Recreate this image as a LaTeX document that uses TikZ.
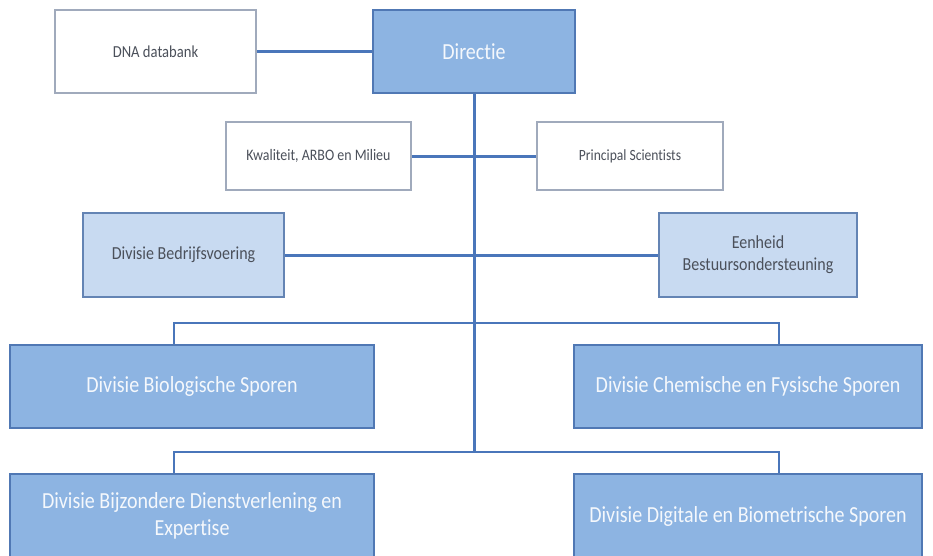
\documentclass[tikz,border=0pt]{standalone}
\usepackage{fontspec}
\setmainfont[FakeStretch=0.87,Ligatures=NoCommon]{Carlito}
\definecolor{darkfill}{RGB}{141,180,226}
\definecolor{darkedge}{RGB}{80,120,180}
\definecolor{lightfill}{RGB}{200,218,241}
\definecolor{lightedge}{RGB}{100,132,180}
\definecolor{whiteedge}{RGB}{160,170,188}
\definecolor{linecol}{RGB}{74,118,186}
\definecolor{darktext}{RGB}{245,248,252}
\definecolor{greytext}{RGB}{75,80,90}
\tikzset{
  box/.style={rectangle, inner sep=2pt, align=center},
  whitebox/.style={box, draw=whiteedge, line width=1.5pt, fill=white, text=greytext, font=\fontsize{16}{19}\selectfont},
  lightbox/.style={box, draw=lightedge, line width=2pt, fill=lightfill, text=greytext, font=\fontsize{18.4}{22}\selectfont},
  darkbox/.style={box, draw=darkedge, line width=2.5pt, fill=darkfill, text=darktext, font=\fontsize{23}{27}\selectfont},
  conn/.style={draw=linecol, line width=3pt},
  conn2/.style={draw=linecol, line width=2.5pt}
}
\begin{document}
\begin{tikzpicture}[x=1pt, y=-1pt]
\useasboundingbox (0,0) rectangle (933,555);
\fill[white] (0,0) rectangle (933,555);
% junction coordinates
\coordinate (t1) at (474,323);
\coordinate (t2) at (474,452);
\coordinate (b1) at (174,323);
\coordinate (c1) at (779,323);
\coordinate (b2) at (174,452);
\coordinate (c2) at (779,452);
% boxes
\node[whitebox, minimum width=201pt, minimum height=83pt, font=\fontsize{16.8}{20}\selectfont] (dna) at (155.5,51.5) {DNA databank};
\node[darkbox, minimum width=202pt, minimum height=83pt] (dir) at (474,51.5) {Directie};
\node[whitebox, minimum width=185pt, minimum height=68pt] (kwa) at (318.5,156) {Kwaliteit, ARBO en Milieu};
\node[whitebox, minimum width=186pt, minimum height=68pt, font=\fontsize{15.6}{19}\selectfont] (pri) at (630,156) {Principal Scientists};
\node[lightbox, minimum width=201pt, minimum height=84pt] (bed) at (183.5,255) {Divisie Bedrijfsvoering};
\node[lightbox, minimum width=198pt, minimum height=84pt] (een) at (758,255) {Eenheid\\Bestuursondersteuning};
\node[darkbox, minimum width=364pt, minimum height=83pt] (bio) at (192,386.5) {Divisie Biologische Sporen};
\node[darkbox, minimum width=348pt, minimum height=83pt] (che) at (748,386.5) {Divisie Chemische en Fysische Sporen};
\node[darkbox, minimum width=364pt, minimum height=84pt] (bij) at (192,516) {Divisie Bijzondere Dienstverlening en\\Expertise};
\node[darkbox, minimum width=348pt, minimum height=84pt] (dig) at (748,516) {Divisie Digitale en Biometrische Sporen};
% connectors
\path[conn] (dna.east) -- (dir.west);
\path[conn] (dir.south) -- (t2);
\path[conn] (kwa.east) -- (pri.west);
\path[conn] (bed.east) -- (een.west);
\path[conn2] (bio.north -| b1) -- (b1) -- (c1) -- (che.north -| c1);
\path[conn2] (bij.north -| b2) -- (b2) -- (c2) -- (dig.north -| c2);
\end{tikzpicture}
\end{document}
